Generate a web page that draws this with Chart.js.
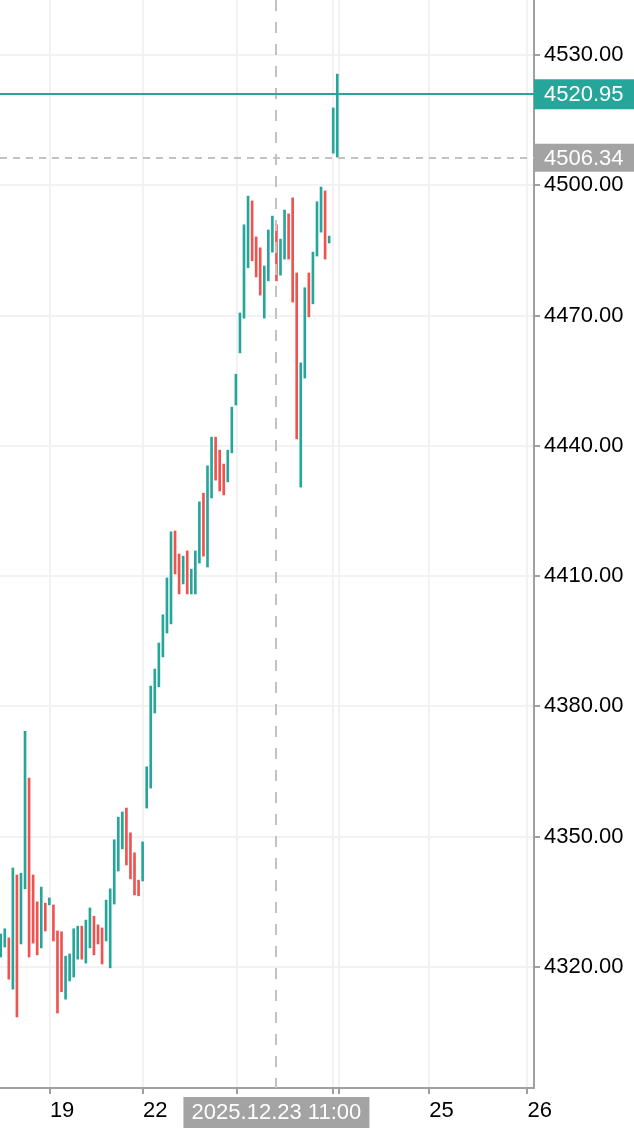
<!DOCTYPE html>
<html><head><meta charset="utf-8">
<script src="https://cdn.jsdelivr.net/npm/chart.js@4.4.1/dist/chart.umd.min.js"></script>
<style>html,body{margin:0;padding:0;background:#fff;overflow:hidden}#wrap{width:634px;height:1132px;position:relative}</style>
</head><body><div id="wrap"><canvas id="c"></canvas></div>
<script>
// Hourly bars (index 0 = leftmost visible bar)
const highs = [4327.6,4328.8,4326.7,4342.8,4341.2,4341.6,4374.3,4363.5,4341.2,4335.0,
  4338.4,4334.7,4335.9,4334.3,4328.3,4328.1,4322.5,4323.0,4328.8,4329.4,
  4329.4,4330.8,4333.6,4331.7,4329.7,4329.0,4335.4,4338.0,4349.3,4354.5,
  4355.7,4356.6,4350.9,4346.3,4340.0,4348.8,4366.1,4384.7,4388.6,4394.6,
  4401.1,4409.6,4420.2,4420.4,4415.1,4414.6,4415.8,4411.6,4415.8,4427.1,
  4429.1,4435.4,4442.0,4442.0,4439.0,4435.8,4439.0,4448.9,4456.5,4470.6,
  4490.9,4497.5,4496.4,4488.1,4485.6,4481.4,4489.7,4492.9,4490.9,4487.6,
  4494.3,4493.4,4497.1,4479.8,4459.1,4476.4,4479.8,4484.6,4496.2,4499.6,
  4498.7,4488.3,4517.8,4525.6];
const lows = [4322.3,4324.6,4317.2,4314.9,4308.5,4325.3,4338.0,4322.3,4325.5,4322.8,
  4324.4,4328.3,4334.3,4326.0,4309.4,4314.3,4312.6,4316.8,4317.7,4321.8,
  4321.8,4320.9,4324.4,4322.8,4325.3,4320.7,4326.0,4319.8,4334.5,4342.1,
  4347.2,4343.5,4340.3,4336.6,4336.4,4339.8,4356.6,4361.2,4378.5,4384.5,
  4391.4,4396.9,4399.0,4410.5,4405.9,4408.2,4405.9,4405.9,4405.9,4413.0,
  4414.6,4412.1,4428.0,4432.1,4429.6,4428.7,4431.7,4438.4,4449.4,4461.4,
  4469.4,4481.0,4482.6,4478.9,4474.7,4469.4,4478.0,4484.6,4478.0,4479.3,
  4483.0,4483.0,4473.1,4441.6,4430.5,4455.6,4469.7,4472.7,4483.7,4489.2,
  4483.0,4486.7,4507.4,4506.5];
// 'u' = rising bar, 'd' = falling bar
const dirs = ['u','u','d','u','d','u','u','d','d','d',
  'u','d','u','d','d','d','u','u','u','u',
  'd','u','u','d','d','d','u','u','u','u',
  'u','d','d','d','d','u','u','u','u','u',
  'u','u','u','d','d','u','d','u','u','u',
  'd','u','u','d','d','d','u','u','u','u',
  'u','u','d','d','d','u','u','u','d','u',
  'u','d','d','d','u','u','d','u','u','u',
  'd','u','u','u'];
const yTicks = [4320,4350,4380,4410,4440,4470,4500,4530];
const xTickPos = [12.13,35.1,58.35,81.87,83.35,105.67,129.89];
const xTickLabels = ['19','22','23','24','','25','26'];
const lastPrice = 4520.95;
const crossPrice = 4506.34;
const crossIdx = 68;
const crossLabel = '2025.12.23 11:00';
const yMin = 4292.14, yMax = 4542.66;
const xMin = -0.173, xMax = 131.52;

const TEAL = '#26a69a', RED = '#ef5350', GRAYBOX = '#a3a3a3';
const FONT = '"Liberation Sans", Arial, sans-serif';
Chart.defaults.font.family = FONT;

const overlay = {
  id: 'overlay',
  afterDatasetsDraw(chart) {
    const {ctx, chartArea: a, scales: {x, y}} = chart;
    ctx.save();
    ctx.strokeStyle = '#c2c2c2';
    ctx.lineWidth = 2;
    const cx = Math.round(x.getPixelForValue(crossIdx));
    ctx.setLineDash([11, 11]);
    ctx.beginPath(); ctx.moveTo(cx, a.top); ctx.lineTo(cx, a.bottom); ctx.stroke();
    const cy = Math.round(y.getPixelForValue(crossPrice));
    ctx.setLineDash([7, 6]);
    ctx.beginPath(); ctx.moveTo(a.left, cy); ctx.lineTo(a.right, cy); ctx.stroke();
    ctx.setLineDash([]);
    const py = Math.round(y.getPixelForValue(lastPrice));
    ctx.strokeStyle = TEAL;
    ctx.beginPath(); ctx.moveTo(a.left, py); ctx.lineTo(a.right, py); ctx.stroke();
    ctx.restore();
  },
  afterDraw(chart) {
    const {ctx, chartArea: a, scales: {x, y}} = chart;
    ctx.save();
    ctx.font = '22px ' + FONT;
    ctx.textBaseline = 'middle';
    const py = y.getPixelForValue(lastPrice);
    ctx.fillStyle = TEAL;
    ctx.fillRect(a.right, py - 15, 100, 30);
    ctx.fillStyle = '#fff';
    ctx.textAlign = 'left';
    ctx.fillText(lastPrice.toFixed(2), a.right + 10, py + 1);
    const cy = y.getPixelForValue(crossPrice);
    ctx.fillStyle = GRAYBOX;
    ctx.fillRect(a.right, cy - 14, 100, 28);
    ctx.fillStyle = '#fff';
    ctx.fillText(crossPrice.toFixed(2), a.right + 10, cy + 1);
    const cx = x.getPixelForValue(crossIdx);
    ctx.fillStyle = GRAYBOX;
    ctx.fillRect(cx - 93, a.bottom + 9, 186, 31);
    ctx.fillStyle = '#fff';
    ctx.textAlign = 'center';
    ctx.fillText(crossLabel, cx, a.bottom + 25);
    ctx.restore();
  }
};

new Chart(document.getElementById('c'), {
  type: 'bar',
  data: {
    datasets: [{
      data: highs.map((h, i) => ({x: i, y: [lows[i], h]})),
      backgroundColor: dirs.map(d => d === 'u' ? TEAL : RED),
      borderWidth: 0,
      barThickness: 2,
      borderSkipped: false
    }]
  },
  options: {
    responsive: true,
    maintainAspectRatio: false,
    animation: false,
    events: [],
    layout: {padding: 0},
    plugins: {legend: {display: false}, tooltip: {enabled: false}},
    scales: {
      x: {
        type: 'linear', min: xMin, max: xMax, offset: false,
        afterBuildTicks: s => { s.ticks = xTickPos.map(v => ({value: v})); },
        afterFit: s => { s.height = 44; s.paddingLeft = 0; s.paddingRight = 0; s.paddingTop = 0; s.paddingBottom = 0; },
        ticks: {
          autoSkip: false, maxRotation: 0, minRotation: 0, align: 'start',
          color: '#000', font: {size: 22}, padding: 4,
          callback: (v, i) => xTickLabels[i]
        },
        grid: {color: '#f2f2f4', lineWidth: 2, tickLength: 6, tickColor: '#a0a0a0', offset: false},
        border: {color: '#a0a0a0', width: 2}
      },
      y: {
        position: 'right', min: yMin, max: yMax,
        afterBuildTicks: s => { s.ticks = yTicks.map(v => ({value: v})); },
        afterFit: s => { s.width = 100; s.paddingLeft = 0; s.paddingRight = 0; s.paddingTop = 0; s.paddingBottom = 0; },
        ticks: {color: '#000', font: {size: 22}, padding: 4, callback: v => v.toFixed(2)},
        grid: {color: '#f2f2f4', lineWidth: 2, tickLength: 6, tickColor: '#a0a0a0'},
        border: {color: '#a0a0a0', width: 2}
      }
    }
  },
  plugins: [overlay]
});
</script></body></html>
